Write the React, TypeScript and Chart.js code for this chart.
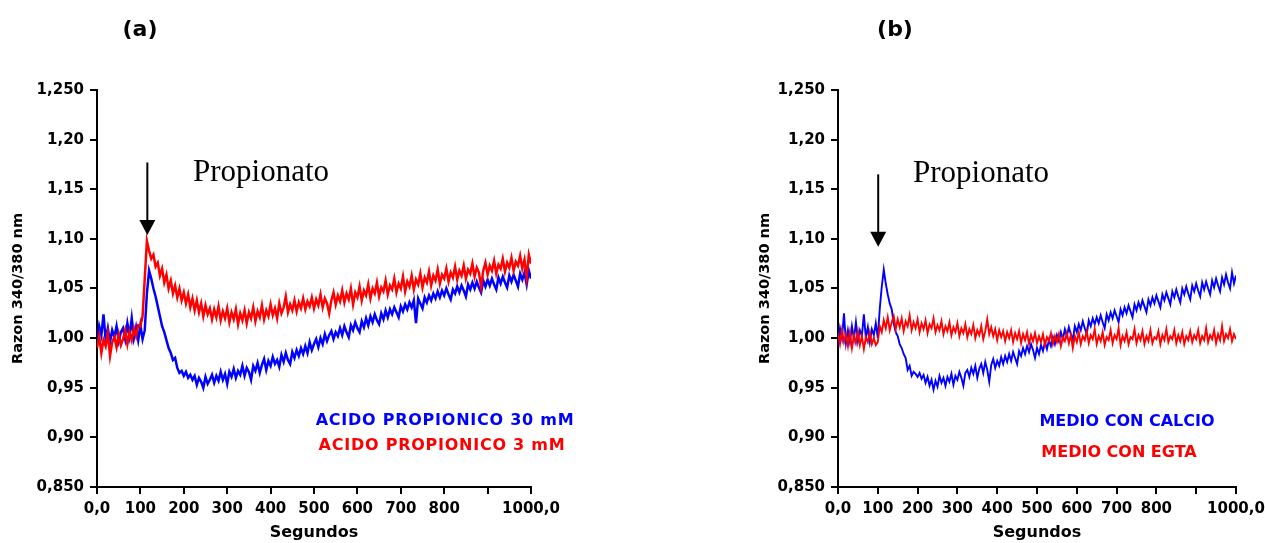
import React, { useEffect, useRef } from 'react';
import { Chart, registerables } from 'chart.js';

Chart.register(...registerables);

// sampling interval of the traces (seconds)
const TIME_STEP = 5;

const X_TICK_LABELS = ['0,0', '100', '200', '300', '400', '500', '600', '700', '800', '', '1000,0'];
const Y_TICK_LABELS = ['0,850', '0,90', '0,95', '1,00', '1,05', '1,10', '1,15', '1,20', '1,250'];

// Panel (a): ACIDO PROPIONICO 30 mM (blue)
const ACIDO_30MM = [
  0.995, 1.012, 1.003, 1.024, 0.998, 1.010, 0.996, 1.008, 1.001, 1.012,
  0.997, 1.006, 1.010, 0.999, 1.015, 1.002, 1.020, 1.000, 1.011, 0.998,
  1.013, 0.999, 1.008, 1.045, 1.068, 1.060, 1.050, 1.042, 1.032, 1.022,
  1.012, 1.006, 0.998, 0.990, 0.985, 0.978, 0.980, 0.970, 0.965, 0.967,
  0.962, 0.966, 0.960, 0.963, 0.958, 0.962, 0.953, 0.960, 0.956, 0.950,
  0.961, 0.954, 0.958, 0.963, 0.955, 0.962, 0.957, 0.966, 0.958, 0.964,
  0.954, 0.966, 0.961, 0.969, 0.960, 0.967, 0.963, 0.972, 0.962, 0.970,
  0.966, 0.958, 0.972, 0.967, 0.975, 0.965, 0.973, 0.979, 0.968, 0.977,
  0.972, 0.981, 0.974, 0.978, 0.971, 0.983, 0.976, 0.985, 0.978, 0.974,
  0.986, 0.980, 0.988, 0.982, 0.990, 0.984, 0.992, 0.985, 0.996, 0.988,
  0.994, 0.999, 0.991, 1.000, 0.994, 1.004, 0.997, 1.003, 1.007, 0.999,
  1.006, 1.002, 1.010, 1.003, 1.012, 1.006, 1.001, 1.013, 1.008, 1.016,
  1.010, 1.006, 1.017, 1.011, 1.020, 1.013, 1.022, 1.016, 1.024, 1.018,
  1.014, 1.025, 1.019, 1.028, 1.021, 1.029, 1.024, 1.031, 1.026, 1.021,
  1.032, 1.027, 1.034, 1.029, 1.036, 1.031, 1.038, 1.015, 1.040, 1.035,
  1.030, 1.041, 1.036, 1.043, 1.038, 1.045, 1.040, 1.047, 1.041, 1.048,
  1.043, 1.050, 1.044, 1.039, 1.049, 1.045, 1.052, 1.046, 1.053, 1.048,
  1.042, 1.054, 1.049, 1.056, 1.050, 1.057, 1.051, 1.046, 1.058, 1.052,
  1.059, 1.053, 1.060, 1.054, 1.049, 1.061, 1.055, 1.062, 1.056, 1.051,
  1.063, 1.057, 1.064, 1.058, 1.052, 1.065, 1.059, 1.066, 1.054, 1.068,
  1.060,
];

// Panel (a): ACIDO PROPIONICO 3 mM (red)
const ACIDO_3MM = [
  0.990, 1.002, 0.985, 0.998, 0.992, 1.005, 0.982, 0.996, 1.001, 0.991,
  1.004, 0.993, 0.999, 1.008, 0.994, 1.006, 0.998, 1.010, 1.002, 1.013,
  1.012, 1.022, 1.060, 1.098, 1.088, 1.080, 1.084, 1.072, 1.076, 1.063,
  1.070, 1.056, 1.064, 1.050, 1.058, 1.045, 1.053, 1.041, 1.050, 1.038,
  1.046, 1.035, 1.044, 1.031, 1.040, 1.028, 1.038, 1.026, 1.035, 1.022,
  1.033, 1.024, 1.030, 1.019, 1.029, 1.021, 1.032, 1.018, 1.027, 1.020,
  1.030, 1.016, 1.026, 1.019, 1.029, 1.014, 1.025, 1.018, 1.028, 1.015,
  1.026, 1.020, 1.031, 1.017, 1.027, 1.021, 1.033, 1.019, 1.028, 1.022,
  1.034, 1.023, 1.030, 1.020, 1.035, 1.025, 1.031, 1.042, 1.026, 1.034,
  1.028, 1.038, 1.027, 1.036, 1.030, 1.040, 1.029, 1.037, 1.032, 1.041,
  1.030, 1.039, 1.033, 1.044, 1.031, 1.040, 1.035, 1.025, 1.038, 1.046,
  1.034, 1.043, 1.037, 1.048, 1.036, 1.045, 1.039, 1.050, 1.034, 1.046,
  1.041, 1.052, 1.038, 1.048, 1.043, 1.054, 1.040, 1.050, 1.045, 1.056,
  1.042, 1.051, 1.047, 1.058, 1.044, 1.053, 1.049, 1.060, 1.046, 1.055,
  1.050, 1.062, 1.047, 1.057, 1.052, 1.063, 1.049, 1.059, 1.054, 1.065,
  1.051, 1.061, 1.056, 1.067, 1.053, 1.063, 1.058, 1.069, 1.055, 1.064,
  1.060, 1.070, 1.057, 1.066, 1.061, 1.072, 1.059, 1.068, 1.063, 1.073,
  1.060, 1.069, 1.065, 1.075, 1.062, 1.071, 1.066, 1.052, 1.068, 1.076,
  1.064, 1.073, 1.068, 1.078, 1.065, 1.074, 1.070, 1.080, 1.067, 1.076,
  1.071, 1.081, 1.068, 1.077, 1.073, 1.083, 1.070, 1.079, 1.061, 1.084,
  1.075,
];

// Panel (b): MEDIO CON CALCIO (blue)
const MEDIO_CALCIO = [
  0.993, 1.010, 1.000, 1.025, 0.995, 1.008, 0.996, 1.012, 0.999, 1.016,
  0.997, 1.008, 1.002, 1.024, 1.000, 1.011, 0.996, 1.009, 1.003, 1.015,
  1.000, 1.030, 1.052, 1.069, 1.055, 1.044, 1.035, 1.029, 1.015, 1.006,
  1.002, 0.994, 0.990, 0.984, 0.980, 0.968, 0.972, 0.962, 0.966, 0.964,
  0.961, 0.965, 0.959, 0.963, 0.955, 0.961, 0.952, 0.958, 0.948, 0.957,
  0.951, 0.962, 0.955, 0.960, 0.952, 0.961, 0.956, 0.964, 0.953, 0.962,
  0.958, 0.966, 0.960, 0.952, 0.965, 0.968, 0.961, 0.970, 0.964, 0.972,
  0.960, 0.969, 0.974, 0.965, 0.976, 0.968, 0.956, 0.973, 0.979, 0.970,
  0.977, 0.972, 0.981, 0.974, 0.982, 0.976, 0.984, 0.977, 0.986, 0.980,
  0.974, 0.987, 0.982, 0.990, 0.984, 0.992, 0.986, 0.994, 0.988, 0.980,
  0.990, 0.984, 0.993, 0.987, 0.996, 0.989, 0.998, 0.992, 1.001, 0.994,
  1.003, 0.997, 1.006, 0.999, 1.009, 1.002, 1.011, 1.004, 0.998, 1.012,
  1.006, 1.014, 1.008, 1.017, 1.010, 1.004, 1.018, 1.012, 1.020, 1.014,
  1.021, 1.015, 1.023, 1.016, 1.010, 1.024, 1.018, 1.026, 1.020, 1.028,
  1.022, 1.016, 1.029, 1.023, 1.031, 1.025, 1.033, 1.027, 1.021, 1.034,
  1.028, 1.036, 1.030, 1.038, 1.032, 1.026, 1.039, 1.033, 1.041, 1.035,
  1.043, 1.037, 1.031, 1.044, 1.038, 1.046, 1.040, 1.034, 1.047, 1.041,
  1.049, 1.042, 1.036, 1.050, 1.044, 1.052, 1.045, 1.039, 1.053, 1.047,
  1.055, 1.048, 1.042, 1.056, 1.049, 1.057, 1.050, 1.044, 1.058, 1.051,
  1.060, 1.053, 1.047, 1.061, 1.054, 1.064, 1.056, 1.050, 1.066, 1.055,
  1.063,
];

// Panel (b): MEDIO CON EGTA (red)
const MEDIO_EGTA = [
  1.005, 0.994, 1.008, 0.996, 1.004, 0.992, 1.006, 0.990, 1.003, 0.995,
  1.007, 0.993, 1.002, 0.989, 1.001, 0.996, 1.006, 0.994, 1.000, 0.993,
  0.996, 1.012, 1.006, 1.018, 1.010, 1.021, 1.008, 1.016, 1.022, 1.009,
  1.019, 1.011, 1.020, 1.007, 1.017, 1.012, 1.023, 1.008, 1.016, 1.010,
  1.019, 1.006, 1.015, 1.009, 1.018, 1.005, 1.014, 1.010, 1.020, 1.006,
  1.013, 1.008, 1.017, 1.004, 1.012, 1.007, 1.016, 1.003, 1.011, 1.006,
  1.015, 1.002, 1.010, 1.005, 1.014, 1.001, 1.009, 1.004, 1.013, 1.000,
  1.008, 1.003, 1.012, 0.999, 1.007, 1.019, 1.004, 1.011, 1.002, 1.009,
  0.998, 1.008, 1.001, 1.007, 0.997, 1.006, 1.000, 1.008, 0.996, 1.005,
  0.999, 1.007, 0.995, 1.004, 0.998, 1.006, 0.994, 1.003, 0.997, 1.005,
  0.995, 1.002, 0.996, 1.004, 0.993, 1.001, 0.997, 1.005, 0.994, 1.002,
  0.996, 1.004, 0.992, 1.001, 0.997, 1.005, 0.995, 1.003, 0.990, 1.002,
  0.996, 1.006, 0.994, 1.002, 0.998, 1.007, 0.995, 1.003, 0.999, 1.009,
  0.994, 1.002, 0.997, 1.006, 0.993, 1.001, 0.998, 1.008, 0.995, 1.003,
  0.999, 1.010, 0.993, 1.002, 0.997, 1.006, 0.994, 1.001, 0.999, 1.009,
  0.995, 1.003, 0.998, 1.007, 0.994, 1.002, 0.997, 1.008, 0.995, 1.001,
  0.999, 1.007, 0.994, 1.003, 0.998, 1.009, 0.996, 1.002, 0.999, 1.008,
  0.995, 1.003, 0.997, 1.006, 0.994, 1.002, 0.998, 1.007, 0.996, 1.003,
  0.999, 1.008, 0.995, 1.002, 0.998, 1.010, 0.996, 1.003, 0.999, 1.008,
  0.995, 1.004, 0.998, 1.012, 0.997, 1.004, 1.000, 1.009, 0.997, 1.004,
  0.999,
];

type PanelCfg = {
  left: number;
  width: number;
  yWidth: number;
  padRight: number;
  yTitlePad: number;
  lineWidth: number;
  blue: number[];
  red: number[];
  blueLabel: string;
  redLabel: string;
  panelLabel: string;
  panelLabelX: number;
  noteX: number;
  noteY: number;
  arrowTime: number;
  arrowTop: number;
  arrowTip: number;
  blueLegendX: number;
  blueLegendY: number;
  redLegendX: number;
  redLegendY: number;
  legendSpacing: string;
};

const PANELS: PanelCfg[] = [
  {
    left: 0, width: 600, yWidth: 97, padRight: 69, yTitlePad: 9.3, lineWidth: 2.5,
    blue: ACIDO_30MM, red: ACIDO_3MM,
    blueLabel: 'ACIDO PROPIONICO 30 mM', redLabel: 'ACIDO PROPIONICO 3 mM',
    panelLabel: '(a)', panelLabelX: 140,
    noteX: 261, noteY: 181,
    arrowTime: 116, arrowTop: 1.177, arrowTip: 1.104,
    blueLegendX: 445, blueLegendY: 421, redLegendX: 442, redLegendY: 446,
    legendSpacing: '0.75px',
  },
  {
    left: 740, width: 525, yWidth: 98, padRight: 29, yTitlePad: 16.3, lineWidth: 1.9,
    blue: MEDIO_CALCIO, red: MEDIO_EGTA,
    blueLabel: 'MEDIO CON CALCIO', redLabel: 'MEDIO CON EGTA',
    panelLabel: '(b)', panelLabelX: 155,
    noteX: 241, noteY: 182,
    arrowTime: 101, arrowTop: 1.165, arrowTip: 1.092,
    blueLegendX: 387, blueLegendY: 422, redLegendX: 379, redLegendY: 453,
    legendSpacing: '0px',
  },
];

const FONT = 'DejaVu Sans';

function annotations(p: PanelCfg) {
  return {
    id: 'annotations',
    afterDraw(chart: any) {
      const { ctx } = chart;
      const x = chart.scales.x;
      const y = chart.scales.y;
      ctx.save();
      ctx.fillStyle = '#000';
      ctx.textAlign = 'center';
      ctx.textBaseline = 'middle';
      ctx.font = `bold 22px "${FONT}"`;
      ctx.fillText(p.panelLabel, p.panelLabelX, 30);

      ctx.font = '31px "Liberation Serif"';
      ctx.textBaseline = 'alphabetic';
      ctx.fillText('Propionato', p.noteX, p.noteY);

      const ax = x.getPixelForValue(p.arrowTime);
      const top = y.getPixelForValue(p.arrowTop);
      const tip = y.getPixelForValue(p.arrowTip);
      ctx.strokeStyle = '#000';
      ctx.lineWidth = 2;
      ctx.beginPath();
      ctx.moveTo(ax, top);
      ctx.lineTo(ax, tip - 12);
      ctx.stroke();
      ctx.beginPath();
      ctx.moveTo(ax - 8, tip - 15);
      ctx.lineTo(ax + 8, tip - 15);
      ctx.lineTo(ax, tip);
      ctx.closePath();
      ctx.fill();

      ctx.font = `bold 16px "${FONT}"`;
      ctx.textBaseline = 'middle';
      (ctx as any).letterSpacing = p.legendSpacing;
      ctx.fillStyle = '#0000ff';
      ctx.fillText(p.blueLabel, p.blueLegendX, p.blueLegendY);
      ctx.fillStyle = '#ff0000';
      ctx.fillText(p.redLabel, p.redLegendX, p.redLegendY);
      (ctx as any).letterSpacing = '0px';
      ctx.restore();
    },
  };
}

function Panel({ p }: { p: PanelCfg }) {
  const ref = useRef<HTMLCanvasElement | null>(null);
  useEffect(() => {
    if (!ref.current) return;
    const toPoints = (arr: number[]) => arr.map((v, i) => ({ x: i * TIME_STEP, y: v }));
    const tickFont = { family: FONT, size: 15, weight: 'bold' as const };
    const chart = new Chart(ref.current, {
      type: 'line',
      data: {
        datasets: [
          {
            label: p.redLabel,
            data: toPoints(p.red),
            borderColor: '#ff0000',
            borderWidth: p.lineWidth,
            pointRadius: 0,
            tension: 0,
            fill: false,
          },
          {
            label: p.blueLabel,
            data: toPoints(p.blue),
            borderColor: '#0000ff',
            borderWidth: p.lineWidth,
            pointRadius: 0,
            tension: 0,
            fill: false,
          },
        ],
      },
      options: {
        animation: false,
        responsive: false,
        layout: { padding: { top: 90, right: p.padRight, bottom: 0, left: 0 } },
        plugins: {
          legend: { display: false },
          tooltip: { enabled: false },
          title: { display: false },
        },
        scales: {
          x: {
            type: 'linear',
            min: 0,
            max: 1000,
            ticks: {
              stepSize: 100,
              autoSkip: false,
              maxRotation: 0,
              color: '#000',
              font: tickFont,
              padding: 6,
              callback: (_v: any, i: number) => X_TICK_LABELS[i],
            },
            grid: {
              drawOnChartArea: false,
              drawTicks: true,
              tickLength: 7,
              color: '#000',
              lineWidth: 2,
            },
            border: { display: true, color: '#000', width: 2 },
            title: {
              display: true,
              text: 'Segundos',
              color: '#000',
              font: { family: FONT, size: 16, weight: 'bold' },
              padding: { top: 0, bottom: 1 },
            },
            afterFit: (s: any) => {
              s.height = 56;
              s.paddingLeft = 0;
              s.paddingRight = 0;
            },
          },
          y: {
            type: 'linear',
            min: 0.85,
            max: 1.25,
            ticks: {
              stepSize: 0.05,
              autoSkip: false,
              color: '#000',
              font: tickFont,
              padding: 6,
              callback: (_v: any, i: number) => Y_TICK_LABELS[i],
            },
            grid: {
              drawOnChartArea: false,
              drawTicks: true,
              tickLength: 7,
              color: '#000',
              lineWidth: 2,
            },
            border: { display: true, color: '#000', width: 2 },
            title: {
              display: true,
              text: 'Razon 340/380 nm',
              color: '#000',
              font: { family: FONT, size: 14.5, weight: 'bold' },
              padding: { top: p.yTitlePad, bottom: 0 },
            },
            afterFit: (s: any) => {
              s.width = p.yWidth;
              s.paddingTop = 0;
              s.paddingBottom = 0;
            },
          },
        },
      },
      plugins: [annotations(p)],
    } as any);
    return () => chart.destroy();
  }, [p]);
  return (
    <canvas
      ref={ref}
      width={p.width}
      height={543}
      style={{ position: 'absolute', left: p.left, top: 0, width: p.width, height: 543 }}
    />
  );
}

export default function App() {
  return (
    <div style={{ position: 'absolute', left: 0, top: 0, width: 1265, height: 543, background: '#fff', overflow: 'hidden' }}>
      {PANELS.map((p) => (
        <Panel key={p.panelLabel} p={p} />
      ))}
    </div>
  );
}
